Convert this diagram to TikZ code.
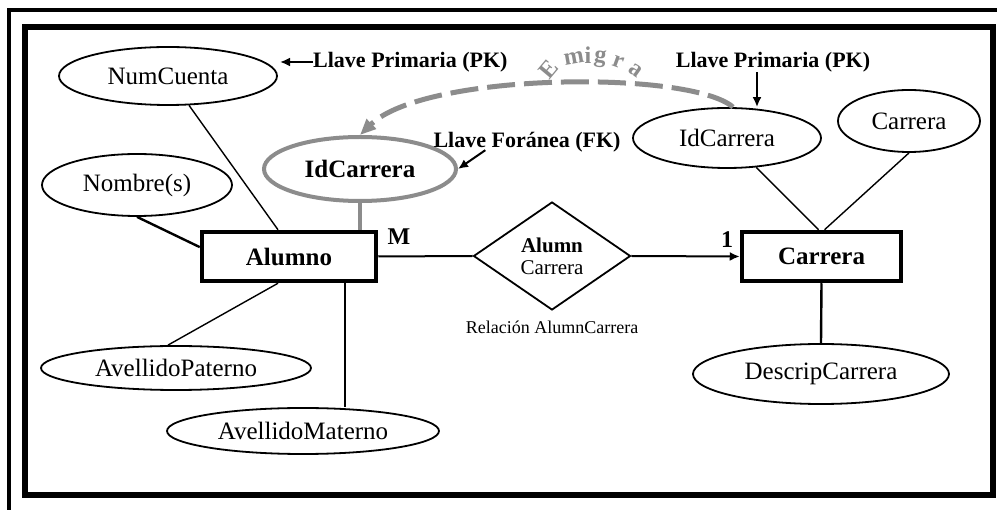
\documentclass[tikz,border=0pt]{standalone}
\usepackage{fontspec}
\setmainfont{Liberation Serif}
\usetikzlibrary{shapes.geometric,arrows.meta}
\definecolor{fkgray}{RGB}{140,140,140}
\tikzset{
  attr/.style={draw, ellipse, line width=1.8pt, inner sep=0pt,
    font=\fontsize{25}{27}\selectfont},
  fkattr/.style={draw=fkgray, ellipse, line width=4pt, inner sep=0pt,
    font=\bfseries\fontsize{25}{27}\selectfont},
  entity/.style={draw, rectangle, line width=4.5pt, inner sep=0pt,
    font=\bfseries\fontsize{25}{27}\selectfont},
  relship/.style={draw, diamond, line width=1.8pt, inner sep=0pt, align=center,
    font=\fontsize{21}{25}\selectfont},
  link/.style={line width=1.4pt},
  boldlink/.style={line width=2.4pt},
  keylabel/.style={inner sep=0pt, font=\bfseries\fontsize{22}{24}\selectfont},
  cardlabel/.style={inner sep=0pt, font=\bfseries\fontsize{24}{26}\selectfont},
  caption/.style={inner sep=0pt, font=\fontsize{18}{20}\selectfont},
  pointer/.style={line width=2pt, -{Latex[length=10pt,width=9pt]}},
  migrate/.style={draw=fkgray, line width=5pt, dash pattern=on 28pt off 9pt,
    -{Triangle[length=16pt,width=13pt]}},
  wordart/.style={inner sep=0pt, text=fkgray, font=\bfseries\fontsize{24}{26}\selectfont},
}
\begin{document}
\begin{tikzpicture}[x=1pt,y=-1pt]
\useasboundingbox (0,0) rectangle (997,510);
\fill[white] (0,0) rectangle (997,510);

% frames
\draw[line width=4.5pt] (9,510) -- (9,10) -- (997,10);
\draw[line width=5.5pt] (25,27) rectangle (993,495);

% entity Alumno and its attributes
\node[entity, minimum width=174pt, minimum height=49pt] (alumno) at (289,256.5) {Alumno};
\node[attr, minimum width=218pt, minimum height=58pt] (numcuenta) at (168,76) {NumCuenta};
\node[attr, minimum width=190pt, minimum height=62pt] (nombre) at (137,185) {Nombre(s)};
\node[fkattr, minimum width=192pt, minimum height=64pt] (idcarA) at (360,169) {IdCarrera};
\node[attr, minimum width=270pt, minimum height=44pt] (apaterno) at (176,368) {AvellidoPaterno};
\node[attr, minimum width=272pt, minimum height=46pt] (amaterno) at (303,431) {AvellidoMaterno};

% relationship
\node[relship, minimum width=157pt, minimum height=108pt] (rel) at (552,256)
  {\bfseries Alumn\\[-3pt]Carrera};
\node[caption] (relcap) at (552,327) {Relación AlumnCarrera};

% entity Carrera and its attributes
\node[entity, minimum width=159pt, minimum height=49pt] (carrera) at (821.5,256.5) {Carrera};
\node[attr, minimum width=188pt, minimum height=60pt] (idcarB) at (727,138) {IdCarrera};
\node[attr, minimum width=142pt, minimum height=62pt] (carattr) at (909,121) {Carrera};
\node[attr, minimum width=256pt, minimum height=60pt] (descrip) at (821,374) {DescripCarrera};

% attribute links
\draw[link] (numcuenta) -- ([xshift=-11pt]alumno.north);
\draw[boldlink] (nombre.south) -- (alumno.174);
\draw[draw=fkgray, line width=4pt] (idcarA.south) -- (idcarA.south |- alumno.north);
\draw[link] ([xshift=-11pt]alumno.south) -- ([xshift=-8pt]apaterno.north);
\draw[link] ([xshift=56pt]alumno.south) -- ([xshift=56pt]alumno.south |- amaterno.north);
\draw[link] (idcarB) -- ([xshift=-3pt]carrera.north);
\draw[link] (carattr.south) -- ([xshift=3pt]carrera.north);
\draw[boldlink] (carrera.south) -- (descrip.north);

% relationship links and cardinalities
\draw[line width=2pt] (alumno.east) -- (rel.west);
\draw[pointer] (rel.east) -- (carrera.west);
\node[cardlabel] (cardM) at (399,237) {M};
\node[cardlabel] (card1) at (727,240) {1};

% key annotations
\node[keylabel, anchor=west] (pkL) at (313,62) {Llave Primaria (PK)};
\coordinate (pkLtip) at (280,62);
\draw[pointer] (pkL.west) -- (pkLtip);

\node[keylabel] (pkR) at (773,62) {Llave Primaria (PK)};
\draw[pointer] ([xshift=-16pt]pkR.south) -- ([xshift=30pt]idcarB.north);

\node[keylabel] (fk) at (527,142) {Llave Foránea (FK)};
\draw[pointer] ([xshift=52pt,yshift=2pt]fk.south west) -- (idcarA.east);

% the key migrates from Carrera to Alumno
\draw[migrate] ([xshift=6pt]idcarB.north) .. controls (690,70) and (425,72) .. (idcarA.north);
\node[wordart, rotate=50] (emE) at (549,69) {E};
\node[wordart, rotate=10] (emM) at (574,58) {m};
\node[wordart, rotate=0] (emI) at (588,55) {i};
\node[wordart, rotate=-8] (emG) at (600,59) {g};
\node[wordart, rotate=-20] (emR) at (618,62) {r};
\node[wordart, rotate=-35] (emA) at (636,70) {a};
\end{tikzpicture}
\end{document}
